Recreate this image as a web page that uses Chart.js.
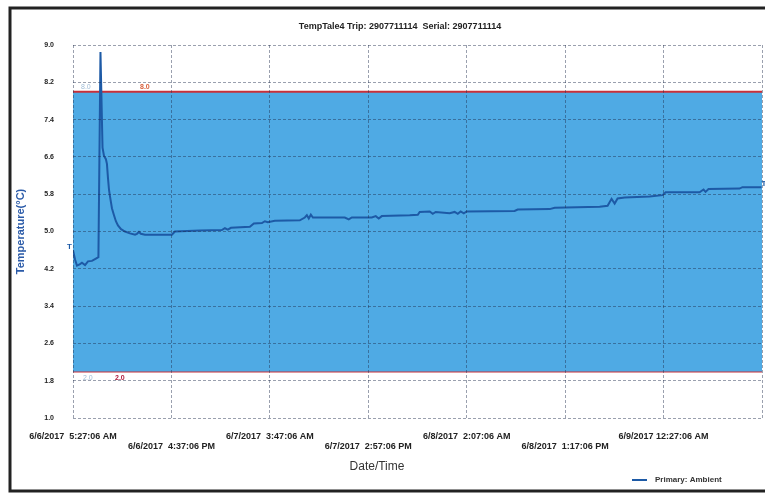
<!DOCTYPE html>
<html>
<head>
<meta charset="utf-8">
<title>TempTale4 Trip</title>
<script src="https://cdn.jsdelivr.net/npm/chart.js@4"></script>
<style>
  body { margin: 0; background: #fff; }
  canvas { display: block; }
</style>
</head>
<body>
<canvas id="chartTemp" width="765" height="495"></canvas>
<script>
// ─── Dados ───────────────────────────────────────────
// minutos decorridos desde 6/6/2017 5:27:06 AM
const ELAPSED_MIN = [
  0, 14, 27, 48, 61, 82, 102, 129, 156, 173,
  187, 201, 211, 224, 231, 238, 245, 252, 265, 279,
  292, 306, 327, 354, 388, 422, 435, 449, 462, 490,
  592, 673, 694, 864, 1013, 1034, 1054, 1075, 1204, 1231,
  1286, 1306, 1326, 1374, 1544, 1578, 1592, 1605, 1619, 1633,
  1850, 1877, 1898, 2034, 2061, 2081, 2102, 2292, 2347, 2360,
  2428, 2449, 2469, 2564, 2598, 2619, 2639, 2660, 2680, 3006,
  3027, 3245, 3279, 3585, 3639, 3666, 3687, 3707, 3755, 3925,
  4013, 4034, 4265, 4292, 4306, 4326, 4537, 4557, 4687,
];
const TEMP_C = [
  4.60, 4.40, 4.27, 4.30, 4.33, 4.28, 4.36, 4.37, 4.42, 4.45,
  8.85, 6.80, 6.62, 6.55, 6.45, 6.15, 5.90, 5.75, 5.50, 5.35,
  5.22, 5.13, 5.05, 5.00, 4.96, 4.93, 4.95, 4.99, 4.95, 4.93,
  4.93, 4.93, 5.00, 5.02, 5.03, 5.07, 5.04, 5.08, 5.10, 5.17,
  5.18, 5.22, 5.20, 5.23, 5.24, 5.30, 5.35, 5.28, 5.36, 5.30,
  5.30, 5.26, 5.30, 5.30, 5.33, 5.28, 5.33, 5.35, 5.36, 5.42,
  5.43, 5.38, 5.42, 5.39, 5.42, 5.38, 5.43, 5.39, 5.43, 5.44,
  5.47, 5.48, 5.51, 5.53, 5.55, 5.70, 5.60, 5.71, 5.73, 5.75,
  5.78, 5.84, 5.84, 5.90, 5.85, 5.91, 5.92, 5.95, 5.95,
];

const X_TICK_LABELS = [
  '6/6/2017  5:27:06 AM', '6/6/2017  4:37:06 PM', '6/7/2017  3:47:06 AM',
  '6/7/2017  2:57:06 PM', '6/8/2017  2:07:06 AM', '6/8/2017  1:17:06 PM',
  '6/9/2017 12:27:06 AM', '',
];
const X_STEP_MIN = 670;   // 11h10m
const Y_MIN = 1.0, Y_MAX = 9.0, Y_STEP = 0.8;
const LIMITE_ALTO = 8.0;
const LIMITE_BAIXO = 2.0;

const TITULO = 'TempTale4 Trip: 2907711114  Serial: 2907711114';

// ─── Paleta ──────────────────────────────────────────
const COR = {
  linha:  '#1d5aa6',
  faixa:  '#4faae4',
  limite: '#c8303a',
  grade:  'rgba(30,45,75,.45)',
  texto:  '#222',
  eixoY:  '#2a5aa8',
};
const FONTE = "'Liberation Sans', Arial, sans-serif";

const xMax = X_STEP_MIN * (X_TICK_LABELS.length - 1);
const limiteSerie = v => [{ x: 0, y: v }, { x: xMax, y: v }];

// ─── Moldura, títulos, legenda e rótulos dos limites ─
const decor = {
  id: 'decor',
  afterDraw(chart) {
    const { ctx, chartArea: a, scales: { x, y } } = chart;
    ctx.save();

    // moldura da digitalização
    ctx.strokeStyle = '#222';
    ctx.lineWidth = 3;
    ctx.beginPath();
    ctx.moveTo(765, 8); ctx.lineTo(10, 8); ctx.lineTo(10, 491); ctx.lineTo(765, 491);
    ctx.stroke();

    ctx.textBaseline = 'middle';
    ctx.fillStyle = COR.texto;
    ctx.textAlign = 'center';
    ctx.font = `bold 9px ${FONTE}`;
    ctx.fillText(TITULO, 400, 27);

    ctx.font = `12px ${FONTE}`;
    ctx.fillStyle = '#333';
    ctx.fillText('Date/Time', 377, 467);

    // legenda
    ctx.strokeStyle = COR.linha;
    ctx.lineWidth = 2;
    ctx.beginPath(); ctx.moveTo(632, 480); ctx.lineTo(647, 480); ctx.stroke();
    ctx.textAlign = 'left';
    ctx.font = `bold 8px ${FONTE}`;
    ctx.fillText('Primary: Ambient', 655, 480);

    // rótulos dos limites
    const yAlto = y.getPixelForValue(LIMITE_ALTO);
    const yBaixo = y.getPixelForValue(LIMITE_BAIXO);
    ctx.font = `7px ${FONTE}`;
    ctx.fillStyle = '#9fbcd6';
    ctx.fillText(LIMITE_ALTO.toFixed(1), a.left + 8, yAlto - 5);
    ctx.fillText(LIMITE_BAIXO.toFixed(1), a.left + 10, yBaixo + 7);
    ctx.font = `bold 7px ${FONTE}`;
    ctx.fillStyle = '#d8603c';
    ctx.fillText(LIMITE_ALTO.toFixed(1), a.left + 67, yAlto - 5);
    ctx.fillStyle = '#b01a3c';
    ctx.fillText(LIMITE_BAIXO.toFixed(1), a.left + 42, yBaixo + 7);

    // marcadores T no início e no fim
    const n = ELAPSED_MIN.length - 1;
    ctx.fillStyle = COR.linha;
    ctx.font = `bold 8px ${FONTE}`;
    ctx.textAlign = 'right';
    ctx.fillText('T', x.getPixelForValue(ELAPSED_MIN[0]) - 1, y.getPixelForValue(TEMP_C[0]) - 3);
    ctx.textAlign = 'left';
    ctx.fillText('T', x.getPixelForValue(ELAPSED_MIN[n]), y.getPixelForValue(TEMP_C[n]) - 3);

    ctx.restore();
  },
};

// ─── Gráfico ─────────────────────────────────────────
const ctx = document.getElementById('chartTemp').getContext('2d');
new Chart(ctx, {
  type: 'line',
  data: {
    datasets: [
      {
        label: 'Primary: Ambient',
        data: ELAPSED_MIN.map((m, i) => ({ x: m, y: TEMP_C[i] })),
        borderColor: COR.linha,
        borderWidth: 2,
        pointRadius: 0,
        tension: 0,
        fill: false,
      },
      {
        label: 'Limite alto',
        data: limiteSerie(LIMITE_ALTO),
        borderColor: COR.limite,
        borderWidth: 2,
        pointRadius: 0,
        backgroundColor: COR.faixa,
        fill: '+1',
      },
      {
        label: 'Limite baixo',
        data: limiteSerie(LIMITE_BAIXO),
        borderColor: COR.limite,
        borderWidth: 2,
        pointRadius: 0,
        fill: false,
      },
    ],
  },
  options: {
    responsive: false,
    animation: false,
    layout: { padding: { top: 45, right: 3, left: 0, bottom: 0 } },
    plugins: {
      legend: { display: false },
      title: { display: false },
      tooltip: { enabled: false },
    },
    scales: {
      x: {
        type: 'linear',
        min: 0,
        max: xMax,
        afterFit: s => { s.height = 77; },
        border: { display: false, dash: [3, 2] },
        // grade por cima da faixa azul; distância dos rótulos via tickLength
        grid: { z: 1, color: COR.grade, tickColor: 'transparent', tickLength: 14, lineWidth: 1 },
        ticks: {
          stepSize: X_STEP_MIN,
          autoSkip: false,
          maxRotation: 0,
          padding: 0,
          color: COR.texto,
          font: { family: FONTE, size: 9, weight: 'bold', lineHeight: 1.1 },
          callback: (v, i) => {
            const txt = X_TICK_LABELS[Math.round(v / X_STEP_MIN)] || '';
            return i % 2 === 0 ? [txt, ''] : ['', txt];
          },
        },
      },
      y: {
        min: Y_MIN,
        max: Y_MAX,
        afterFit: s => { s.width = 73; },
        border: { display: false, dash: [3, 2] },
        grid: { z: 1, color: COR.grade, tickColor: 'transparent', tickLength: 19, lineWidth: 1 },
        ticks: {
          stepSize: Y_STEP,
          padding: 0,
          color: COR.texto,
          font: { family: FONTE, size: 7, weight: 'bold' },
          callback: v => Number(v).toFixed(1),
        },
        title: {
          display: true,
          text: 'Temperature(°C)',
          color: COR.eixoY,
          padding: { top: 14, bottom: 0 },
          font: { family: FONTE, size: 11, weight: 'bold' },
        },
      },
    },
  },
  plugins: [decor],
});
</script>
</body>
</html>
